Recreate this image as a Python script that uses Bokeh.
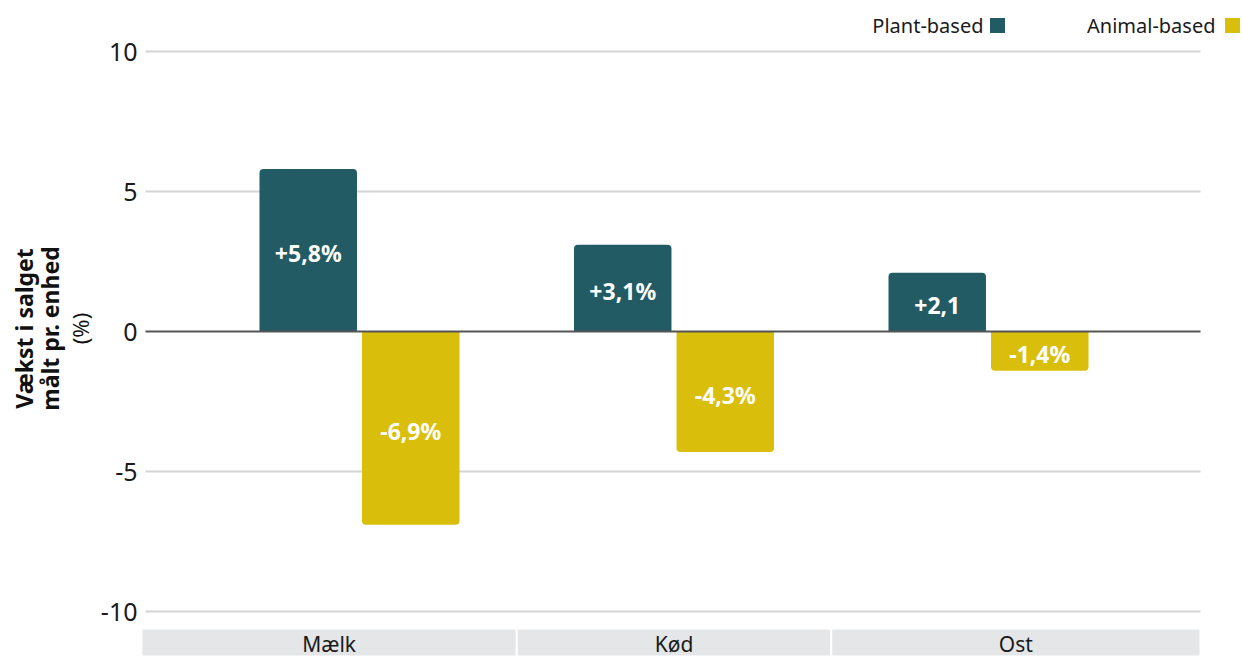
from bokeh.plotting import figure
from bokeh.models import Range1d, FixedTicker, ColumnDataSource, LinearAxis
from bokeh.core.properties import value
from bokeh.embed import file_html
from bokeh.resources import INLINE

categories = ["Mælk", "Kød", "Ost"]
plant_values = [5.8, 3.1, 2.1]
animal_values = [-6.9, -4.3, -1.4]
plant_labels = ["+5,8%", "+3,1%", "+2,1"]
animal_labels = ["-6,9%", "-4,3%", "-1,4%"]
series_names = ["Plant-based", "Animal-based"]
y_ticks = [-10, -5, 0, 5, 10]
y_tick_labels = ["-10", "-5", "0", "5", "10"]
y_title_main = "Vækst i salget\nmålt pr. enhed"
y_title_unit = "(%)"

PLANT = "#225B64"
ANIMAL = "#D9BF0B"
FONT = "Noto Sans"
W, H = 1242, 656

PX = 314.5          # px per category unit
FRAME_L = 141
ZERO_PX = 359
YPX = 28.0
Y0 = 331


def dx(px):
    return (px - ZERO_PX) / PX


def dy(py):
    return (Y0 - py) / YPX


x_start, x_end = dx(FRAME_L), dx(W)
y_start, y_end = dy(H), dy(0)

p = figure(width=W, height=H, output_backend="svg", toolbar_location=None,
           x_range=Range1d(x_start, x_end), y_range=Range1d(y_start, y_end),
           min_border_left=FRAME_L, min_border_right=0,
           min_border_top=0, min_border_bottom=0)
p.outline_line_color = None
p.background_fill_color = "white"
p.border_fill_color = "white"
p.xaxis.visible = False
p.xgrid.visible = False
p.ygrid.visible = False

yax = p.yaxis[0]
yax.ticker = FixedTicker(ticks=y_ticks)
yax.major_label_overrides = {t: s for t, s in zip(y_ticks, y_tick_labels)}
yax.axis_line_color = None
yax.major_tick_line_color = None
yax.minor_tick_line_color = None
yax.major_tick_out = 0
yax.major_tick_in = 0
yax.minor_tick_out = 0
yax.minor_tick_in = 0
yax.major_label_text_font = FONT
yax.major_label_text_font_size = "25px"
yax.major_label_text_color = "#1a1a1a"
yax.major_label_standoff = 4
yax.axis_label = y_title_unit
yax.axis_label_text_font = FONT
yax.axis_label_text_font_style = "normal"
yax.axis_label_text_font_size = "22px"
yax.axis_label_text_color = "#111111"
yax.axis_label_standoff = 3

outer = LinearAxis(ticker=FixedTicker(ticks=[]), axis_line_color=None,
                   major_tick_line_color=None, minor_tick_line_color=None,
                   major_tick_out=0, major_tick_in=0, minor_tick_out=0, minor_tick_in=0,
                   major_label_standoff=0, major_label_text_font_size="0px",
                   axis_label=y_title_main, axis_label_text_font=FONT,
                   axis_label_text_font_style="bold", axis_label_text_font_size="23px",
                   axis_label_text_color="#111111", axis_label_standoff=-4,
                   axis_label_text_line_height=0.8)
p.add_layout(outer, "left")

# gridlines (from the tick list)
grid_ticks = [t for t in y_ticks if t != 0]
p.segment(x0=[dx(145)] * len(grid_ticks), x1=[dx(1200)] * len(grid_ticks),
          y0=grid_ticks, y1=grid_ticks, line_color="#d4d4d4", line_width=2)

xs = list(range(len(categories)))
off = 0.163
bw = 0.31

src_p = ColumnDataSource(dict(x=[x - off for x in xs], top=plant_values,
                              lab=plant_labels, ly=[v / 2 for v in plant_values]))
src_a = ColumnDataSource(dict(x=[x + off for x in xs], top=animal_values,
                              lab=animal_labels, ly=[v / 2 for v in animal_values]))

p.vbar(x="x", top="top", bottom=0, width=bw, source=src_p, fill_color=PLANT,
       line_color=None, border_radius=[4, 4, 0, 0])
p.vbar(x="x", top=0, bottom="top", width=bw, source=src_a, fill_color=ANIMAL,
       line_color=None, border_radius=[0, 0, 4, 4])

for src in (src_p, src_a):
    p.text(x="x", y="ly", text="lab", source=src, text_color="white",
           text_font=value(FONT), text_font_style="bold", text_font_size="23px",
           text_align="center", text_baseline="middle", y_offset=3)

# zero line
p.segment(x0=[dx(145)], x1=[dx(1200)], y0=[0], y1=[0], line_color="#555555", line_width=2)

# category band
band_top = dy(628)
band_right = dx(1200)
lefts = [x_start if i == 0 else i - 0.5 for i in xs]
rights = [band_right if i == len(xs) - 1 else i + 0.5 for i in xs]
p.quad(left=lefts, right=rights, top=band_top, bottom=y_start,
       fill_color="#e5e6e8", line_color="white", line_width=2)
p.text(x=[(l + r) / 2 for l, r in zip(lefts, rights)], y=[dy(643)] * len(xs),
       text=categories, text_font=value(FONT), text_font_size="21px",
       text_color="#1a1a1a", text_align="center", text_baseline="middle")

# legend (text followed by a square)
p.text(x=[dx(983), dx(1215)], y=[dy(25)] * 2, text=series_names,
       text_font=value(FONT), text_font_size="20px", text_color="#1a1a1a",
       text_align="right", text_baseline="middle")
p.scatter(x=[dx(997), dx(1232)], y=[dy(25)] * 2, marker="square", size=15,
          fill_color=[PLANT, ANIMAL], line_color=None)

open("out.html", "w").write(file_html(p, INLINE))
